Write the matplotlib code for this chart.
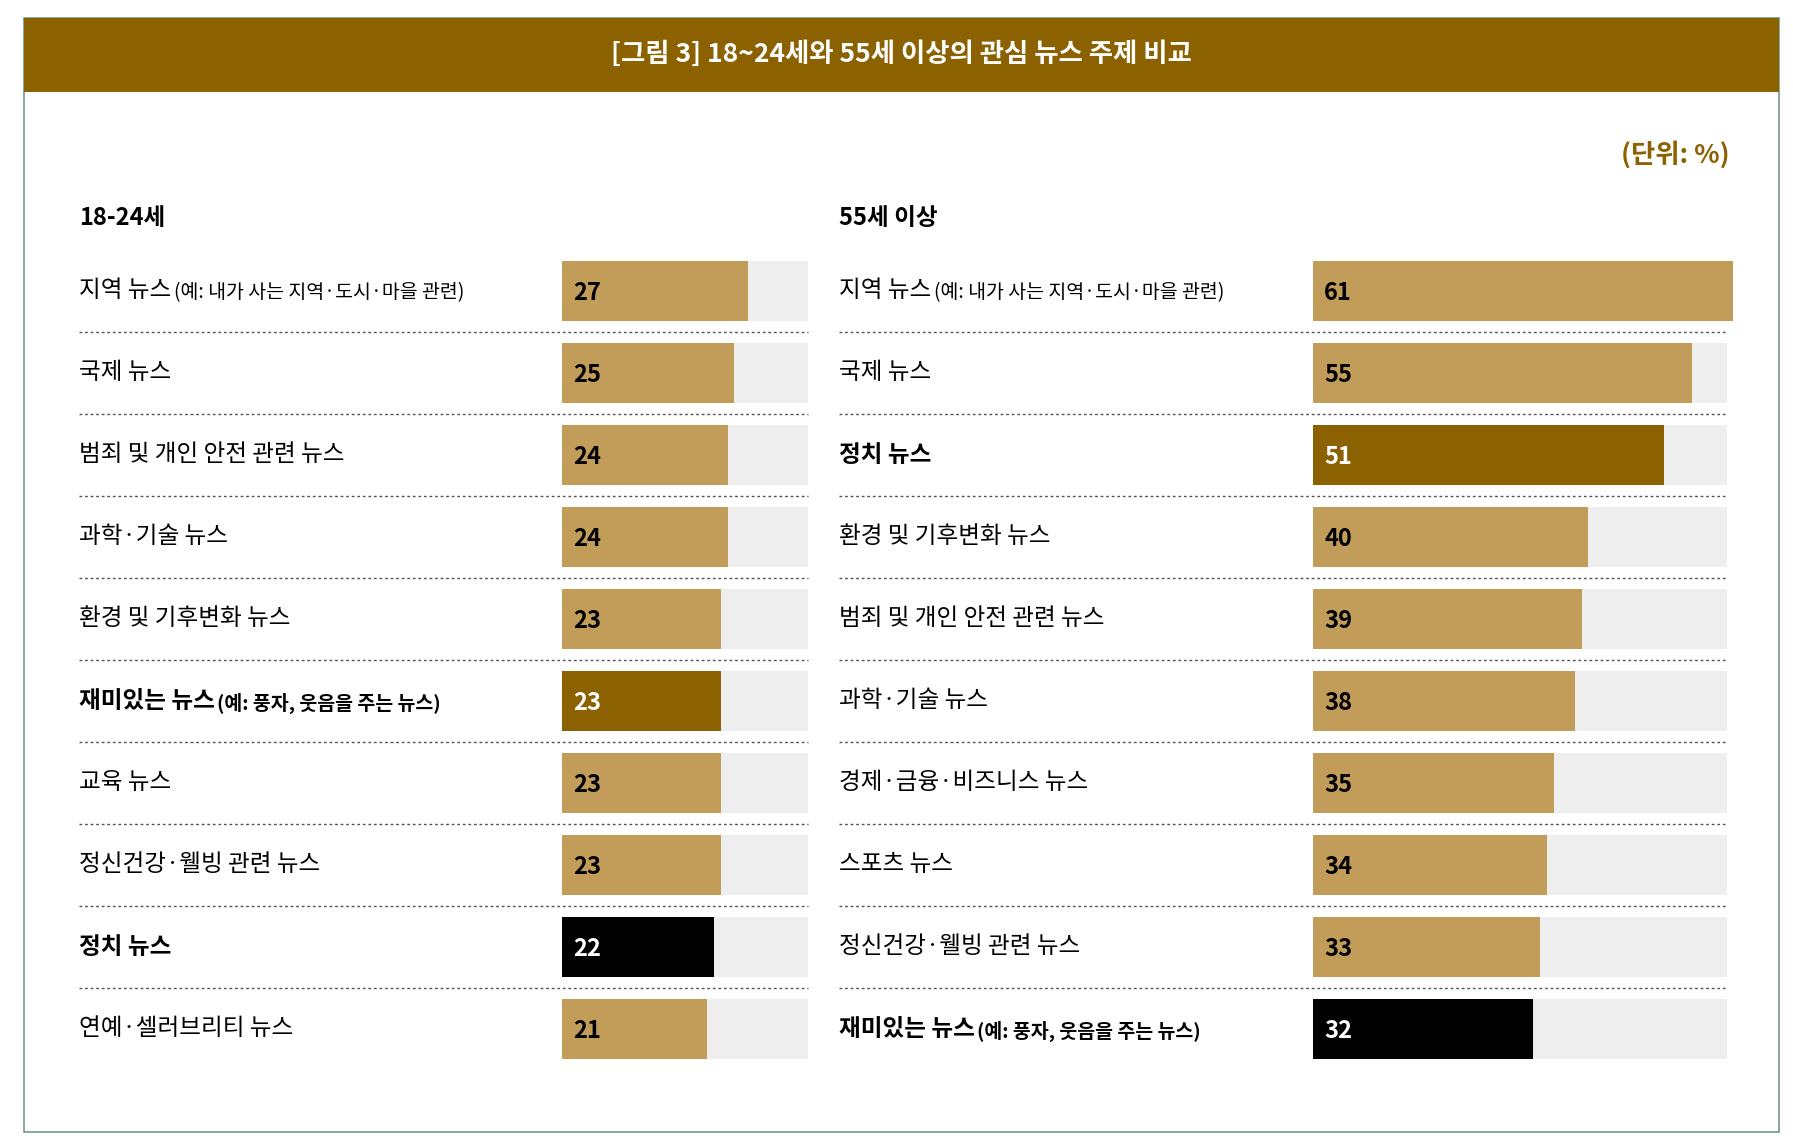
import matplotlib.pyplot as plt

plt.rcParams['font.family'] = ['Noto Sans CJK KR', 'DejaVu Sans']

# data
young_labels = ["지역 뉴스", "국제 뉴스", "범죄 및 개인 안전 관련 뉴스", "과학·기술 뉴스",
                "환경 및 기후변화 뉴스", "재미있는 뉴스", "교육 뉴스",
                "정신건강·웰빙 관련 뉴스", "정치 뉴스", "연예·셀러브리티 뉴스"]
young_notes = ["(예: 내가 사는 지역·도시·마을 관련)", "", "", "", "",
               "(예: 풍자, 웃음을 주는 뉴스)", "", "", "", ""]
young_values = [27, 25, 24, 24, 23, 23, 23, 23, 22, 21]
young_style = ["n", "n", "n", "n", "n", "gold", "n", "n", "black", "n"]

old_labels = ["지역 뉴스", "국제 뉴스", "정치 뉴스", "환경 및 기후변화 뉴스",
              "범죄 및 개인 안전 관련 뉴스", "과학·기술 뉴스", "경제·금융·비즈니스 뉴스",
              "스포츠 뉴스", "정신건강·웰빙 관련 뉴스", "재미있는 뉴스"]
old_notes = ["(예: 내가 사는 지역·도시·마을 관련)", "", "", "", "", "", "", "", "",
             "(예: 풍자, 웃음을 주는 뉴스)"]
old_values = [61, 55, 51, 40, 39, 38, 35, 34, 33, 32]
old_style = ["n", "n", "gold", "n", "n", "n", "n", "n", "n", "black"]

TAN = "#C29D5A"
GOLD = "#8C6100"
GRAY = "#EEEEEE"
fill = {"n": TAN, "gold": GOLD, "black": "black"}

W, H = 1560, 994
fig = plt.figure(figsize=(17.93, 11.42), dpi=100)
ax = fig.add_axes([0, 0, 1, 1])
ax.set_xlim(0, W)
ax.set_ylim(H, 0)
ax.axis("off")

# frame and header
ax.add_patch(plt.Rectangle((21, 16), 1527, 969, fill=False, ec="#6E9C90", lw=1.2))
ax.add_patch(plt.Rectangle((21, 16), 1527, 64, color=GOLD, lw=0))
ax.text(784, 47, "[그림 3] 18~24세와 55세 이상의 관심 뉴스 주제 비교", color="white",
        fontsize=19, fontweight="bold", ha="center", va="center")
ax.text(1505, 135, "(단위: %)", color=GOLD, fontsize=19, fontweight="bold",
        ha="right", va="center")

fig.canvas.draw()
renderer = fig.canvas.get_renderer()

scale = 6.0
row0, step, bh = 253, 71.4, 52


def panel(x_text, x_bar, bg_w, title, labels, notes, values, styles):
    ax.text(x_text, 190, title, fontsize=17, fontweight="bold", va="center")
    for i, (lab, note, v, s) in enumerate(zip(labels, notes, values, styles)):
        y = row0 + i * step
        bold = s != "n"
        t = ax.text(x_text, y, lab, fontsize=17, va="center",
                    fontweight="bold" if bold else "normal")
        if note:
            bb = t.get_window_extent(renderer)
            x2 = ax.transData.inverted().transform((bb.x1, 0))[0]
            ax.text(x2 + 2, y + 2, note, fontsize=14, va="center",
                    fontweight="bold" if bold else "normal")
        ax.add_patch(plt.Rectangle((x_bar, y - bh / 2), bg_w, bh, color=GRAY, lw=0))
        ax.add_patch(plt.Rectangle((x_bar, y - bh / 2), v * scale, bh, color=fill[s], lw=0))
        ax.text(x_bar + 10, y + 2, str(v), fontsize=17, fontweight="bold", va="center",
                color="black" if s == "n" else "white")
        if i < len(labels) - 1:
            ax.plot([x_text, x_bar + bg_w], [y + step / 2] * 2, ls=(0, (2, 2)),
                    color="#555555", lw=1)


panel(69, 489, 214, "18-24세", young_labels, young_notes, young_values, young_style)
panel(730, 1142, 361, "55세 이상", old_labels, old_notes, old_values, old_style)

fig.savefig("out.png", dpi=100)
